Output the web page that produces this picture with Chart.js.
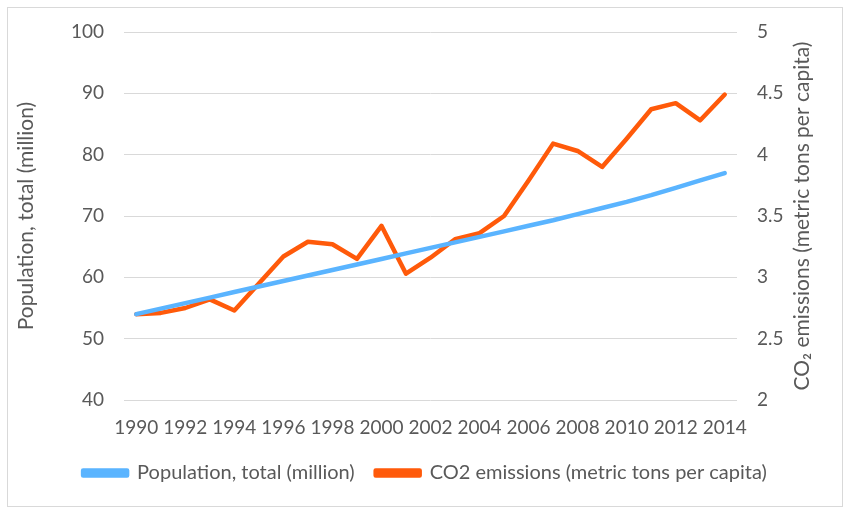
<!DOCTYPE html>
<html>
<head>
<meta charset="utf-8">
<script src="https://cdn.jsdelivr.net/npm/chart.js@4"></script>
<style>
  html, body { margin: 0; padding: 0; background: #fff; }
  #wrap { position: absolute; left: 0; top: 0; width: 850px; height: 514px; }
  #frame { position: absolute; left: 7px; top: 7px; width: 836px; height: 500px; border: 1px solid #d9d9d9; box-sizing: border-box; pointer-events: none; }
</style>
</head>
<body>
<div id="wrap">
  <canvas id="c" width="850" height="514"></canvas>
  <div id="frame"></div>
</div>
<script>
const years = ['1990','1991','1992','1993','1994','1995','1996','1997','1998','1999','2000','2001','2002','2003','2004','2005','2006','2007','2008','2009','2010','2011','2012','2013','2014'];
const population = [54.0, 54.9, 55.8, 56.7, 57.6, 58.5, 59.4, 60.3, 61.2, 62.1, 63.0, 63.9, 64.8, 65.7, 66.6, 67.5, 68.4, 69.3, 70.3, 71.3, 72.3, 73.4, 74.6, 75.8, 77.0];
const co2 = [2.70, 2.71, 2.75, 2.82, 2.73, 2.95, 3.17, 3.29, 3.27, 3.15, 3.42, 3.03, 3.16, 3.31, 3.36, 3.50, 3.79, 4.09, 4.03, 3.90, 4.13, 4.37, 4.42, 4.28, 4.49];
const popLabel = 'Population, total (million)';
const co2Label = 'CO2 emissions (metric tons per capita)';
const leftTitle = 'Population, total (million)';
const rightTitle = 'CO\u2082 emissions (metric tons per capita)';

const FONT = 'Lato, "Open Sans", sans-serif';
const TXT = '#595959';
const BLUE = '#5AB4FF';
const ORANGE = '#FF5A0A';

const rightTitlePlugin = {
  id: 'rightTitle',
  afterDraw(chart) {
    const ca = chart.chartArea;
    const ctx = chart.ctx;
    ctx.save();
    ctx.translate(ca.right + 65, (ca.top + ca.bottom) / 2);
    ctx.rotate(-Math.PI / 2);
    ctx.font = '21px ' + FONT;
    ctx.fillStyle = TXT;
    ctx.textAlign = 'center';
    ctx.textBaseline = 'middle';
    ctx.fillText(rightTitle, 0, 0);
    ctx.restore();
  }
};

new Chart(document.getElementById('c'), {
  type: 'line',
  data: {
    labels: years,
    datasets: [
      { label: popLabel, data: population, yAxisID: 'y', borderColor: BLUE, backgroundColor: BLUE, borderWidth: 4.5, pointRadius: 0, tension: 0, borderCapStyle: 'round', borderJoinStyle: 'round' },
      { label: co2Label, data: co2, yAxisID: 'y1', borderColor: ORANGE, backgroundColor: ORANGE, borderWidth: 4.5, pointRadius: 0, tension: 0, borderCapStyle: 'round', borderJoinStyle: 'round' }
    ]
  },
  plugins: [rightTitlePlugin],
  options: {
    responsive: false,
    animation: false,
    layout: { padding: { left: 8, right: 8, top: 32, bottom: 21 } },
    plugins: {
      tooltip: { enabled: false },
      legend: {
        position: 'bottom',
        labels: {
          font: { family: FONT, size: 20 },
          color: TXT,
          boxWidth: 44,
          boxHeight: 5,
          padding: 21
        }
      }
    },
    scales: {
      x: {
        offset: true,
        grid: { display: false, drawTicks: false },
        border: { display: false },
        ticks: {
          font: { family: FONT, size: 19 }, color: TXT, padding: 16,
          maxRotation: 0, autoSkip: false,
          callback: function(v, i) { return i % 2 === 0 ? years[i] : ''; }
        },
        afterFit: function(s) { s.height = 42; }
      },
      y: {
        position: 'left',
        min: 40, max: 100,
        ticks: { stepSize: 10, font: { family: FONT, size: 19 }, color: TXT, padding: 20 },
        grid: { color: '#d9d9d9', lineWidth: 1, drawTicks: false },
        border: { display: false },
        title: { display: true, text: leftTitle, font: { family: FONT, size: 21 }, color: TXT, padding: { top: 6, bottom: 0 } },
        afterFit: function(s) { s.width = 116; }
      },
      y1: {
        position: 'right',
        min: 2, max: 5,
        ticks: {
          stepSize: 0.5, font: { family: FONT, size: 19 }, color: TXT, padding: 20,
          callback: function(v) { return String(Number(v.toFixed(1))); }
        },
        grid: { display: false, drawTicks: false },
        border: { display: false },
        afterFit: function(s) { s.width = 105; }
      }
    }
  }
});
</script>
</body>
</html>
